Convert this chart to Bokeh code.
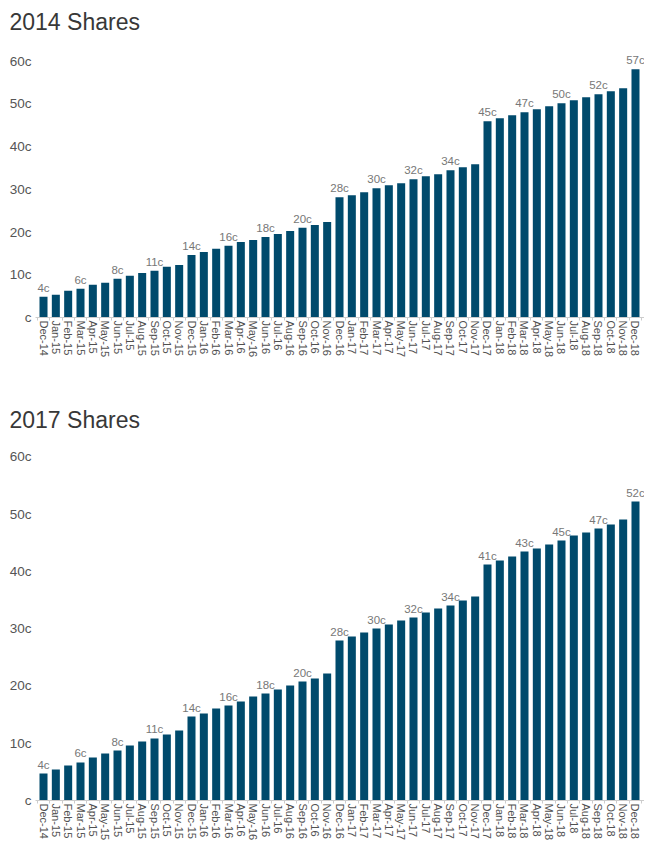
from bokeh.plotting import figure
from bokeh.models import FixedTicker, ColumnDataSource, Range1d, Title
from bokeh.layouts import column
from bokeh.embed import file_html
from bokeh.resources import INLINE
from bokeh.core.properties import value

months = ["Dec-14", "Jan-15", "Feb-15", "Mar-15", "Apr-15", "May-15", "Jun-15",
          "Jul-15", "Aug-15", "Sep-15", "Oct-15", "Nov-15", "Dec-15", "Jan-16",
          "Feb-16", "Mar-16", "Apr-16", "May-16", "Jun-16", "Jul-16", "Aug-16",
          "Sep-16", "Oct-16", "Nov-16", "Dec-16", "Jan-17", "Feb-17", "Mar-17",
          "Apr-17", "May-17", "Jun-17", "Jul-17", "Aug-17", "Sep-17", "Oct-17",
          "Nov-17", "Dec-17", "Jan-18", "Feb-18", "Mar-18", "Apr-18", "May-18",
          "Jun-18", "Jul-18", "Aug-18", "Sep-18", "Oct-18", "Nov-18", "Dec-18"]

values_2014 = [4.83, 5.30, 6.23, 6.70, 7.64, 8.11, 9.04, 9.74, 10.44, 10.91, 11.85, 12.31,
               14.65, 15.35, 16.06, 16.76, 17.69, 18.16, 18.86, 19.56, 20.26, 20.97, 21.67, 22.37,
               28.14, 28.60, 29.31, 30.24, 30.94, 31.41, 32.35, 33.05, 33.52, 34.45, 35.15, 35.85,
               45.91, 46.61, 47.31, 48.01, 48.71, 49.42, 50.12, 50.82, 51.52, 52.22, 52.92, 53.62,
               58.07]

values_2017 = [4.71, 5.41, 6.11, 6.64, 7.51, 8.21, 8.73, 9.60, 10.30, 10.83, 11.52, 12.22,
               14.67, 15.19, 16.07, 16.59, 17.29, 18.16, 18.68, 19.38, 20.08, 20.78, 21.30, 22.18,
               27.94, 28.64, 29.34, 30.03, 30.73, 31.43, 31.96, 32.83, 33.53, 34.05, 34.92, 35.62,
               41.21, 41.91, 42.61, 43.48, 44.00, 44.70, 45.40, 46.27, 46.80, 47.50, 48.20, 49.07,
               52.21]

labels_2014 = ["4c", "6c", "8c", "11c", "14c", "16c", "18c", "20c", "28c", "30c", "32c",
               "34c", "45c", "47c", "50c", "52c", "57c"]
labels_2017 = ["4c", "6c", "8c", "11c", "14c", "16c", "18c", "20c", "28c", "30c", "32c",
               "34c", "41c", "43c", "45c", "47c", "52c"]

y_ticks = [0, 10, 20, 30, 40, 50, 60]
y_tick_labels = ["c", "10c", "20c", "30c", "40c", "50c", "60c"]

FONT = "Liberation Sans"
BAR = "#004a6c"


def make_chart(title, vals, labels, height, border_top, border_bottom, gap):
    n = len(vals)
    p = figure(width=644, height=height, output_backend="svg", toolbar_location=None,
               x_range=Range1d(-0.649, 48.73), y_range=Range1d(0, 62),
               min_border_left=35, min_border_right=0,
               min_border_top=border_top, min_border_bottom=border_bottom,
               title=None)
    p.outline_line_color = None
    p.xgrid.visible = False
    p.ygrid.visible = False
    p.background_fill_color = "white"
    p.border_fill_color = "white"

    # spacer between title and plot area, then the title itself
    p.add_layout(Title(text=" ", text_font_size="1px", standoff=gap), "above")
    p.add_layout(Title(text=title, text_font=FONT, text_font_size="23px",
                       text_font_style="normal", text_color="#383838",
                       align="left", offset=-26, standoff=0), "above")

    xs = list(range(n))
    src = ColumnDataSource(dict(x=xs, top=vals))
    p.vbar(x="x", top="top", width=0.65, bottom=0, source=src,
           fill_color=BAR, line_color=None)

    lab_idx = xs[::3]
    lsrc = ColumnDataSource(dict(x=lab_idx, y=[vals[i] for i in lab_idx], t=labels))
    p.text(x="x", y="y", text="t", source=lsrc, text_align="center",
           text_baseline="bottom", y_offset=-3,
           text_font=value(FONT), text_font_size="11.5px", text_color="#777777")

    xa = p.xaxis[0]
    xa.ticker = FixedTicker(ticks=xs, minor_ticks=[i - 0.5 for i in range(n + 1)])
    xa.major_label_overrides = {i: m for i, m in enumerate(months)}
    xa.major_label_orientation = "vertical"
    xa.major_tick_line_color = None
    xa.major_tick_out = 0
    xa.major_tick_in = 0
    xa.minor_tick_line_color = "#cccccc"
    xa.minor_tick_out = 3
    xa.minor_tick_in = 0
    xa.axis_line_color = "#cccccc"
    xa.major_label_standoff = 0
    xa.major_label_text_font = FONT
    xa.major_label_text_font_size = "11px"
    xa.major_label_text_color = "#505050"

    ya = p.yaxis[0]
    ya.ticker = FixedTicker(ticks=y_ticks)
    ya.major_label_overrides = {t: l for t, l in zip(y_ticks, y_tick_labels)}
    ya.axis_line_color = None
    ya.major_tick_line_color = None
    ya.minor_tick_line_color = None
    ya.major_tick_out = 0
    ya.major_tick_in = 0
    ya.minor_tick_out = 0
    ya.minor_tick_in = 0
    ya.major_label_standoff = 4
    ya.major_label_text_font = FONT
    ya.major_label_text_font_size = "13.5px"
    ya.major_label_text_color = "#555555"
    return p


p1 = make_chart("2014 Shares", values_2014, labels_2014, 382, 52, 65, 15)
p2 = make_chart("2017 Shares", values_2017, labels_2017, 461, 63, 43, 10)

layout = column(p1, p2, spacing=0)
open("out.html", "w").write(file_html(layout, INLINE))
